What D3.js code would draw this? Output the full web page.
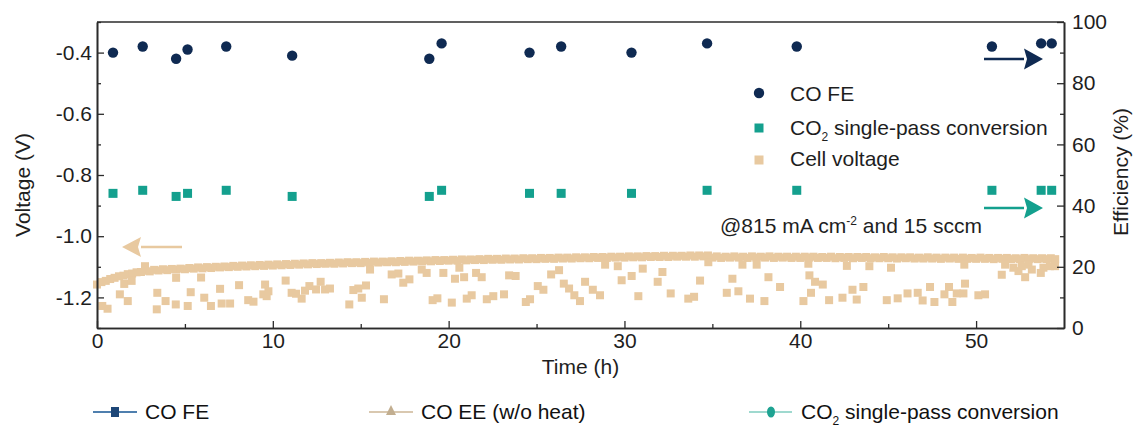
<!DOCTYPE html>
<html><head><meta charset="utf-8">
<script src="https://cdn.jsdelivr.net/npm/d3@7"></script>
<style>
html,body{margin:0;padding:0;background:#fff;}
svg{display:block;font-family:"Liberation Sans",Arial,Helvetica,sans-serif;}
</style></head><body>
<svg id="chart" width="1148" height="430"></svg>
<script>
// CO Faradaic efficiency and CO2 single-pass conversion (%), sampled at the same times (h)
const sampleTimes = [0.91, 2.6, 4.5, 5.15, 7.35, 11.1, 18.9, 19.6, 24.6, 26.4, 30.4, 34.7, 39.8, 50.9, 53.7, 54.3];
const coFE = [90, 92, 88, 91, 92, 89, 88, 93, 90, 92, 90, 93, 92, 92, 93, 93];
const co2Conversion = [44, 45, 43, 44, 45, 43, 43, 45, 44, 44, 44, 45, 45, 45, 45, 45];

// Cell voltage (V), logged every 0.25 h
const voltageStep = 0.25;
const cellVoltage = [
  -1.158, -1.150, -1.146, -1.140, -1.136, -1.131, -1.129, -1.124, -1.122, -1.118,
  -1.117, -1.113, -1.115, -1.110, -1.112, -1.108, -1.111, -1.107, -1.109, -1.106,
  -1.108, -1.104, -1.106, -1.102, -1.105, -1.101, -1.104, -1.100, -1.102, -1.099,
  -1.101, -1.097, -1.100, -1.096, -1.099, -1.095, -1.098, -1.094, -1.097, -1.093,
  -1.096, -1.092, -1.095, -1.091, -1.094, -1.090, -1.093, -1.089, -1.092, -1.088,
  -1.091, -1.088, -1.090, -1.087, -1.090, -1.086, -1.089, -1.085, -1.088, -1.085,
  -1.088, -1.084, -1.087, -1.083, -1.086, -1.083, -1.085, -1.082, -1.085, -1.081,
  -1.084, -1.080, -1.083, -1.080, -1.082, -1.079, -1.082, -1.078, -1.081, -1.078,
  -1.080, -1.077, -1.080, -1.076, -1.079, -1.076, -1.078, -1.075, -1.078, -1.074,
  -1.077, -1.074, -1.077, -1.073, -1.076, -1.073, -1.076, -1.072, -1.075, -1.072,
  -1.075, -1.071, -1.074, -1.071, -1.074, -1.070, -1.073, -1.070, -1.073, -1.069,
  -1.072, -1.069, -1.072, -1.068, -1.071, -1.068, -1.071, -1.067, -1.070, -1.067,
  -1.070, -1.066, -1.069, -1.066, -1.069, -1.065, -1.068, -1.065, -1.068, -1.064,
  -1.068, -1.064, -1.067, -1.064, -1.067, -1.063, -1.067, -1.063, -1.066, -1.063,
  -1.070, -1.066, -1.071, -1.067, -1.070, -1.066, -1.070, -1.067, -1.071, -1.066,
  -1.070, -1.067, -1.070, -1.066, -1.071, -1.067, -1.070, -1.067, -1.071, -1.067,
  -1.071, -1.067, -1.070, -1.067, -1.071, -1.068, -1.071, -1.067, -1.072, -1.068,
  -1.071, -1.068, -1.072, -1.068, -1.071, -1.068, -1.072, -1.069, -1.072, -1.068,
  -1.072, -1.069, -1.073, -1.069, -1.072, -1.069, -1.073, -1.070, -1.073, -1.069,
  -1.073, -1.070, -1.074, -1.070, -1.073, -1.070, -1.074, -1.070, -1.074, -1.071,
  -1.074, -1.070, -1.074, -1.071, -1.075, -1.071, -1.074, -1.071, -1.075, -1.072,
  -1.075, -1.071, -1.075, -1.072, -1.075, -1.072, -1.075, -1.072, -1.075
];

// Scattered low-voltage readings: [time (h), voltage (V)]
const voltageExcursions = [
  [0.3, -1.228], [0.6, -1.237], [1.3, -1.190], [1.75, -1.212], [1.55, -1.156], [1.97, -1.146],
  [2.73, -1.098], [3.43, -1.185], [3.9, -1.212], [3.4, -1.239], [4.48, -1.223], [4.5, -1.136],
  [5.16, -1.228], [5.33, -1.183], [5.92, -1.135], [6.1, -1.201], [6.48, -1.228], [7.0, -1.172],
  [7.09, -1.220], [7.57, -1.220], [8.08, -1.160], [8.6, -1.209], [8.9, -1.214], [9.56, -1.158],
  [9.46, -1.190], [9.75, -1.180], [9.65, -1.196], [10.73, -1.145], [11.07, -1.185],
  [11.32, -1.188], [11.64, -1.204], [11.83, -1.178], [12.08, -1.163], [12.46, -1.174],
  [12.72, -1.149], [12.97, -1.174], [13.25, -1.171], [14.35, -1.223], [14.58, -1.176],
  [14.86, -1.171], [15.06, -1.201], [15.3, -1.161], [15.53, -1.109], [16.32, -1.206],
  [16.76, -1.125], [17.14, -1.122], [17.42, -1.152], [17.77, -1.141], [18.47, -1.109],
  [18.75, -1.120], [19.09, -1.209], [19.36, -1.203], [19.7, -1.120], [20.18, -1.217],
  [20.36, -1.139], [20.61, -1.103], [20.88, -1.134], [21.03, -1.204], [21.31, -1.193],
  [21.56, -1.120], [21.88, -1.134], [22.17, -1.206], [22.54, -1.196], [23.15, -1.190],
  [23.44, -1.128], [23.81, -1.130], [24.39, -1.215], [24.63, -1.206], [25.07, -1.163],
  [25.39, -1.175], [25.83, -1.125], [26.28, -1.111], [26.55, -1.155], [26.85, -1.171],
  [27.15, -1.193], [27.47, -1.212], [27.76, -1.149], [28.2, -1.175], [28.61, -1.193],
  [28.9, -1.093], [29.62, -1.098], [29.84, -1.144], [30.41, -1.130], [30.79, -1.196],
  [31.04, -1.106], [31.89, -1.149], [32.16, -1.117], [32.63, -1.187], [33.63, -1.204],
  [33.96, -1.198], [34.3, -1.145], [34.77, -1.085], [35.82, -1.185], [36.14, -1.139],
  [36.48, -1.180], [36.71, -1.093], [37.14, -1.204], [37.52, -1.093], [37.96, -1.212],
  [38.19, -1.134], [38.85, -1.166], [40.18, -1.212], [40.46, -1.090], [40.52, -1.128],
  [40.61, -1.185], [40.84, -1.149], [41.28, -1.158], [41.64, -1.209], [42.4, -1.201],
  [42.65, -1.097], [42.97, -1.175], [43.21, -1.207], [43.59, -1.166], [43.93, -1.098],
  [44.92, -1.209], [45.16, -1.103], [45.54, -1.203], [46.1, -1.187], [46.68, -1.185],
  [46.96, -1.210], [47.38, -1.166], [47.63, -1.215], [48.2, -1.190], [48.46, -1.166],
  [48.65, -1.215], [48.9, -1.187], [49.28, -1.187], [49.37, -1.155], [49.33, -1.093],
  [50.13, -1.193], [50.51, -1.190], [51.46, -1.126], [51.65, -1.093], [52.12, -1.103],
  [52.41, -1.114], [52.6, -1.098], [52.79, -1.134], [52.98, -1.093], [53.17, -1.109],
  [53.68, -1.120], [53.83, -1.103], [54.2, -1.098], [54.49, -1.098]
];

// Axis ticks
const timeTicks = [0, 10, 20, 30, 40, 50];
const timeMinorTicks = [5, 15, 25, 35, 45];
const voltageTicks = [-1.2, -1.0, -0.8, -0.6, -0.4];
const voltageMinorTicks = [-1.3, -1.1, -0.9, -0.7, -0.5, -0.3];
const effTicks = [0, 20, 40, 60, 80, 100];
const effMinorTicks = [10, 30, 50, 70, 90];

const NAVY = "#0f2a52", TEAL = "#14a08e", TAN = "#e8c9a0", AXIS = "#2b2b2b", TEXT = "#1e1e1e";
const FS = 21;

const svg = d3.select("#chart");
const M = {left: 97, right: 1064, top: 22, bottom: 328};

const x = d3.scaleLinear().domain([0, 55]).range([M.left, M.right]);
const yV = d3.scaleLinear().domain([-1.3, -0.3]).range([M.bottom, M.top]);
const yE = d3.scaleLinear().domain([0, 100]).range([M.bottom, M.top]);

// ---- marks ----
const marks = svg.append("g");
const SQ = 8;
const voltagePoints = cellVoltage.map((v, i) => [i * voltageStep, v]).concat(voltageExcursions);
marks.selectAll("rect.volt").data(voltagePoints).join("rect")
  .attr("class", "volt")
  .attr("x", d => x(d[0]) - SQ / 2).attr("y", d => yV(d[1]) - SQ / 2)
  .attr("width", SQ).attr("height", SQ).attr("fill", TAN);

const CQ = 9;
marks.selectAll("rect.conv").data(co2Conversion).join("rect")
  .attr("class", "conv")
  .attr("x", (d, i) => x(sampleTimes[i]) - CQ / 2).attr("y", d => yE(d) - CQ / 2)
  .attr("width", CQ).attr("height", CQ).attr("fill", TEAL);

marks.selectAll("circle.fe").data(coFE).join("circle")
  .attr("class", "fe")
  .attr("cx", (d, i) => x(sampleTimes[i])).attr("cy", d => yE(d))
  .attr("r", 5.2).attr("fill", NAVY);

// ---- axes ----
function styleAxis(g) {
  g.selectAll(".domain").attr("stroke", AXIS).attr("stroke-width", 1.6);
  g.selectAll(".tick line").attr("stroke", AXIS).attr("stroke-width", 1.3);
  g.selectAll(".tick text").attr("fill", TEXT).attr("font-size", FS)
    .attr("font-family", '"Liberation Sans", Arial, sans-serif');
}
const fmtV = d => d.toFixed(1);

svg.append("g").attr("transform", `translate(0,${M.bottom})`)
  .call(d3.axisBottom(x).tickValues(timeMinorTicks).tickSize(-4).tickSizeOuter(0).tickFormat(""))
  .call(styleAxis);
svg.append("g").attr("transform", `translate(0,${M.bottom})`)
  .call(d3.axisBottom(x).tickValues(timeTicks).tickSize(-7).tickSizeOuter(0).tickPadding(5))
  .call(styleAxis);

svg.append("g").attr("transform", `translate(${M.left},0)`)
  .call(d3.axisLeft(yV).tickValues(voltageMinorTicks).tickSize(-4).tickSizeOuter(0).tickFormat(""))
  .call(styleAxis);
svg.append("g").attr("transform", `translate(${M.left},0)`)
  .call(d3.axisLeft(yV).tickValues(voltageTicks).tickSize(-7).tickSizeOuter(0).tickPadding(5).tickFormat(fmtV))
  .call(styleAxis);

svg.append("g").attr("transform", `translate(${M.right},0)`)
  .call(d3.axisRight(yE).tickValues(effMinorTicks).tickSize(-4).tickSizeOuter(0).tickFormat(""))
  .call(styleAxis);
svg.append("g").attr("transform", `translate(${M.right},0)`)
  .call(d3.axisRight(yE).tickValues(effTicks).tickSize(-7).tickSizeOuter(0).tickPadding(8))
  .call(styleAxis);

// top frame line
svg.append("line").attr("x1", M.left).attr("x2", M.right).attr("y1", M.top).attr("y2", M.top)
  .attr("stroke", AXIS).attr("stroke-width", 1.6);

// axis titles
const title = (txt) => svg.append("text").attr("fill", TEXT).attr("font-size", FS)
  .attr("text-anchor", "middle").text(txt);
title("Time (h)").attr("x", (M.left + M.right) / 2).attr("y", 374);
title("Voltage (V)").attr("transform", "translate(30,185) rotate(-90)");
title("Efficiency (%)").attr("transform", "translate(1128,172) rotate(-90)");

// ---- legend (inside plot) ----
const leg = svg.append("g");
leg.append("circle").attr("cx", 759).attr("cy", 93).attr("r", 5.2).attr("fill", NAVY);
leg.append("rect").attr("x", 759 - 4.5).attr("y", 128 - 4.5).attr("width", 9).attr("height", 9).attr("fill", TEAL);
leg.append("rect").attr("x", 759 - 4.5).attr("y", 160 - 4.5).attr("width", 9).attr("height", 9).attr("fill", TAN);
leg.append("text").attr("x", 790).attr("y", 101).attr("font-size", FS).attr("fill", TEXT).text("CO FE");
const t2 = leg.append("text").attr("x", 790).attr("y", 135).attr("font-size", FS).attr("fill", TEXT);
t2.append("tspan").text("CO");
t2.append("tspan").attr("font-size", 12).attr("dy", 6).text("2");
t2.append("tspan").attr("dy", -6).text(" single-pass conversion");
leg.append("text").attr("x", 790).attr("y", 166).attr("font-size", FS).attr("fill", TEXT).text("Cell voltage");

// condition annotation
const ann = svg.append("text").attr("x", 720).attr("y", 233).attr("font-size", FS).attr("fill", TEXT);
ann.append("tspan").text("@815 mA cm");
ann.append("tspan").attr("font-size", 12).attr("dy", -8).text("-2");
ann.append("tspan").attr("dy", 8).text(" and 15 sccm");

// ---- axis-pointer arrows ----
function arrow(x0, x1, y, color, headLen, headHalf) {
  const dir = Math.sign(x1 - x0);
  const base = x1 - dir * headLen;
  svg.append("line").attr("x1", x0).attr("x2", base).attr("y1", y).attr("y2", y)
    .attr("stroke", color).attr("stroke-width", 2.4);
  svg.append("path")
    .attr("d", `M${x1},${y} L${base},${y - headHalf} L${base + dir * 3},${y} L${base},${y + headHalf} Z`)
    .attr("fill", color);
}
arrow(984, 1043, 59, NAVY, 19, 10.5);
arrow(984, 1043, 208, TEAL, 19, 10.5);
arrow(182, 122, 247, TAN, 19, 10);

// ---- bottom series key ----
const key = svg.append("g");
const keyY = 412;
function keyLine(x0, x1, color) {
  key.append("line").attr("x1", x0).attr("x2", x1).attr("y1", keyY).attr("y2", keyY)
    .attr("stroke", color).attr("stroke-width", 2);
}
keyLine(93, 137, "#4f7fae");
key.append("rect").attr("x", 115 - 4).attr("y", keyY - 5).attr("width", 8).attr("height", 10).attr("fill", "#1d4677");
key.append("text").attr("x", 145).attr("y", 419).attr("font-size", FS).attr("fill", "#111").text("CO FE");

keyLine(369, 413, "#d9c8b0");
key.append("path").attr("d", `M391,${keyY - 7} L396,${keyY + 3} L386,${keyY + 3} Z`).attr("fill", "#c2ae90");
key.append("text").attr("x", 421).attr("y", 419).attr("font-size", FS).attr("fill", "#111").text("CO EE (w/o heat)");

keyLine(749, 792, "#9fd9cf");
key.append("ellipse").attr("cx", 771).attr("cy", keyY).attr("rx", 4).attr("ry", 5.5).attr("fill", "#1ea392");
const k3 = key.append("text").attr("x", 801).attr("y", 419).attr("font-size", FS).attr("fill", "#111");
k3.append("tspan").text("CO");
k3.append("tspan").attr("font-size", 12).attr("dy", 6).text("2");
k3.append("tspan").attr("dy", -6).text(" single-pass conversion");
</script>
</body></html>
